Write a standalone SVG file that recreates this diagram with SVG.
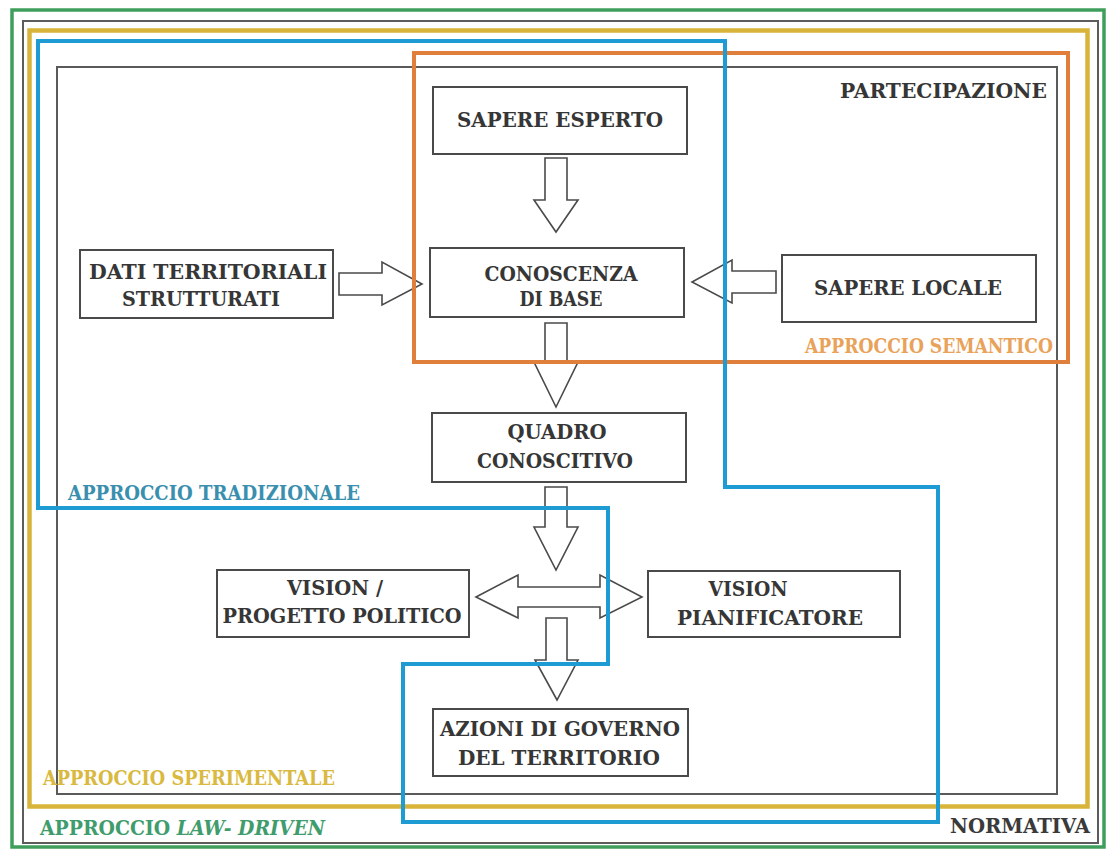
<svg xmlns="http://www.w3.org/2000/svg" width="1108" height="850" viewBox="0 0 1108 850">
  <style>
    .box { fill: #ffffff; stroke: #4a4a4a; stroke-width: 2; }
    .lbl { font-family: "DejaVu Serif", "Liberation Serif", serif; font-weight: bold; font-size: 21px; fill: #363636; text-anchor: middle; }
    .tag { font-family: "DejaVu Serif", "Liberation Serif", serif; font-weight: bold; font-size: 20px; }
    .arrow { fill: #ffffff; stroke: #4a4a4a; stroke-width: 1.6; stroke-linejoin: miter; }
    .frame { fill: none; }
  </style>

  <rect width="1108" height="850" fill="#ffffff"/>

  <!-- outer frames -->
  <g id="frame-law-driven">
    <rect class="frame" x="12" y="10" width="1092" height="837" stroke="#3f9e5c" stroke-width="3.5"/>
  </g>
  <g id="frame-normativa">
    <rect class="frame" x="23" y="21" width="1075" height="822" stroke="#5c5c5c" stroke-width="2"/>
  </g>
  <g id="frame-partecipazione">
    <rect class="frame" x="57" y="67" width="1000" height="727" stroke="#5a5a5a" stroke-width="2"/>
  </g>

  <!-- connectors (block arrows) -->
  <g id="connectors">
    <polygon class="arrow" points="545,158 567,158 567,200 578,200 556,232 534,200 545,200"/>
    <polygon class="arrow" points="339,273 382,273 382,262 422,284 382,305 382,295 339,295"/>
    <polygon class="arrow" points="776,271 732,271 732,260 692,282 732,303 732,293 776,293"/>
    <polygon class="arrow" points="545,323 567,323 567,362 578,362 556,407 534,362 545,362"/>
    <polygon class="arrow" points="545,487 567,487 567,527 578,527 556,570 534,527 545,527"/>
    <polygon class="arrow" points="476,597 518,575 518,587 600,587 600,575 642,597 600,618 600,607 518,607 518,618"/>
    <polygon class="arrow" points="546,618 567,618 567,660 578,660 557,700 535,660 546,660"/>
  </g>

  <!-- nodes -->
  <g id="node-sapere-esperto">
    <rect class="box" x="433" y="87" width="254" height="67"/>
    <text class="lbl" x="560" y="127" textLength="206" lengthAdjust="spacingAndGlyphs">SAPERE ESPERTO</text>
  </g>
  <g id="node-dati-territoriali">
    <rect class="box" x="80" y="250" width="253" height="68"/>
    <text class="lbl" x="208" y="279" textLength="238" lengthAdjust="spacingAndGlyphs">DATI TERRITORIALI</text>
    <text class="lbl" x="201" y="306" textLength="158" lengthAdjust="spacingAndGlyphs">STRUTTURATI</text>
  </g>
  <g id="node-conoscenza-di-base">
    <rect class="box" x="430" y="248" width="254" height="69"/>
    <text class="lbl" x="561" y="281" textLength="153" lengthAdjust="spacingAndGlyphs">CONOSCENZA</text>
    <text class="lbl" x="561" y="306" textLength="83" lengthAdjust="spacingAndGlyphs">DI BASE</text>
  </g>
  <g id="node-sapere-locale">
    <rect class="box" x="782" y="255" width="254" height="67"/>
    <text class="lbl" x="908" y="295" textLength="188" lengthAdjust="spacingAndGlyphs">SAPERE LOCALE</text>
  </g>
  <g id="node-quadro-conoscitivo">
    <rect class="box" x="432" y="413" width="254" height="69"/>
    <text class="lbl" x="557" y="439" textLength="99" lengthAdjust="spacingAndGlyphs">QUADRO</text>
    <text class="lbl" x="555" y="468" textLength="156" lengthAdjust="spacingAndGlyphs">CONOSCITIVO</text>
  </g>
  <g id="node-vision-politico">
    <rect class="box" x="217" y="570" width="252" height="67"/>
    <text class="lbl" x="335" y="595" textLength="96" lengthAdjust="spacingAndGlyphs">VISION /</text>
    <text class="lbl" x="342" y="623" textLength="239" lengthAdjust="spacingAndGlyphs">PROGETTO POLITICO</text>
  </g>
  <g id="node-vision-pianificatore">
    <rect class="box" x="648" y="571" width="252" height="66"/>
    <text class="lbl" x="748" y="596" textLength="79" lengthAdjust="spacingAndGlyphs">VISION</text>
    <text class="lbl" x="770" y="625" textLength="186" lengthAdjust="spacingAndGlyphs">PIANIFICATORE</text>
  </g>
  <g id="node-azioni-governo">
    <rect class="box" x="433" y="709" width="255" height="67"/>
    <text class="lbl" x="560" y="736" textLength="240" lengthAdjust="spacingAndGlyphs">AZIONI DI GOVERNO</text>
    <text class="lbl" x="559" y="765" textLength="202" lengthAdjust="spacingAndGlyphs">DEL TERRITORIO</text>
  </g>

  <!-- approach frames, drawn over the arrows -->
  <g id="frame-sperimentale">
    <rect class="frame" x="29.5" y="30.5" width="1058" height="776" stroke="#d8b43a" stroke-width="4.5"/>
  </g>
  <g id="frame-semantico">
    <rect class="frame" x="414" y="53" width="654" height="309" stroke="#e07f3c" stroke-width="4"/>
  </g>
  <g id="frame-tradizionale">
    <path class="frame" d="M38,41 H725 V487 H938 V822 H403 V664 H608 V508 H38 Z" stroke="#1f9bd3" stroke-width="4"/>
  </g>

  <!-- frame titles -->
  <g id="titles">
    <text class="lbl" x="943.5" y="98" textLength="207" lengthAdjust="spacingAndGlyphs">PARTECIPAZIONE</text>
    <text class="tag" x="805" y="353" fill="#e9a25a" textLength="248" lengthAdjust="spacingAndGlyphs">APPROCCIO SEMANTICO</text>
    <text class="tag" x="68" y="500" fill="#3b8fae" textLength="292" lengthAdjust="spacingAndGlyphs">APPROCCIO TRADIZIONALE</text>
    <text class="tag" x="43" y="785" fill="#d9b93f" textLength="292" lengthAdjust="spacingAndGlyphs">APPROCCIO SPERIMENTALE</text>
    <text class="tag" x="40" y="835" fill="#3f9c6c" textLength="285" lengthAdjust="spacingAndGlyphs">APPROCCIO <tspan font-style="italic">LAW- DRIVEN</tspan></text>
    <text class="tag" x="950" y="833" fill="#3a3a3a" textLength="140" lengthAdjust="spacingAndGlyphs">NORMATIVA</text>
  </g>
</svg>
